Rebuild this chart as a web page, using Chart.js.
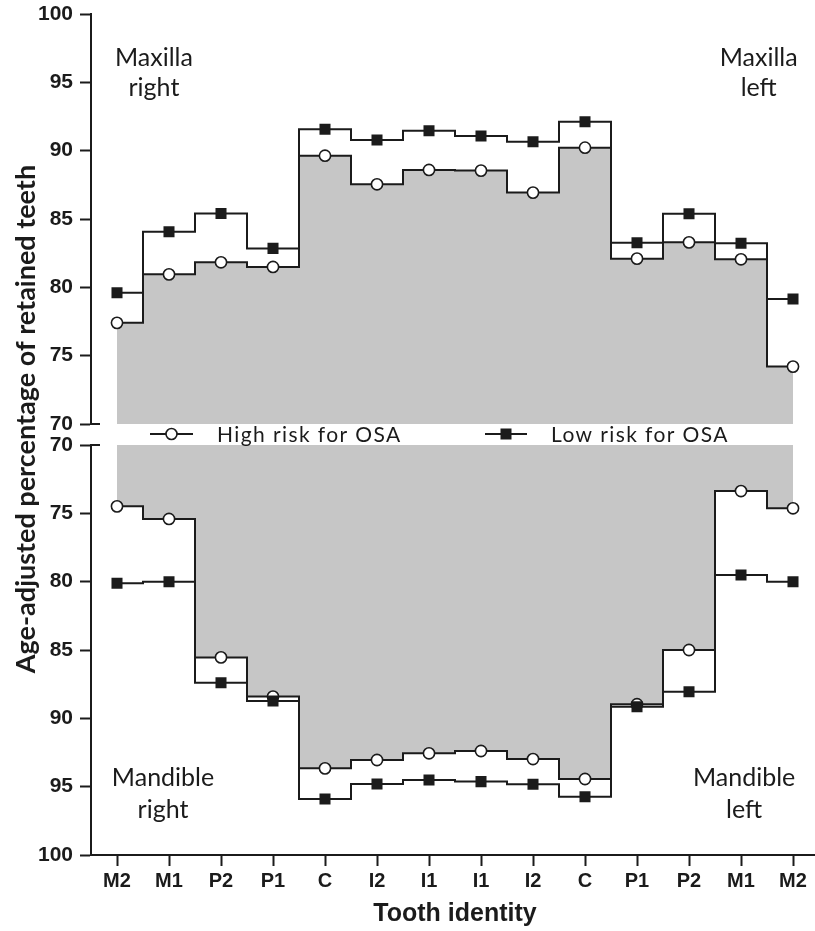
<!DOCTYPE html>
<html><head><meta charset="utf-8">
<script src="https://cdn.jsdelivr.net/npm/chart.js@4.4.1/dist/chart.umd.min.js"></script>
<style>
html,body{margin:0;padding:0;background:#fff;}
#wrap{position:relative;width:815px;height:931px;overflow:hidden;background:#fff;}
canvas{position:absolute;left:0;top:0;}
</style></head><body>
<div id="wrap"><canvas id="cTop" width="830" height="931"></canvas><canvas id="cBot" width="830" height="931"></canvas></div>
<script>
// ---- data ----
const teeth = ['M2','M1','P2','P1','C','I2','I1','I1','I2','C','P1','P2','M1','M2'];
const yTicks = [70,75,80,85,90,95,100];
const seriesNames = ['High risk for OSA','Low risk for OSA'];
const maxillaHigh = [77.4,80.95,81.83,81.49,89.63,87.54,88.59,88.54,86.93,90.22,82.1,83.29,82.05,74.2];
const maxillaLow  = [79.6,84.07,85.4,82.85,91.56,90.78,91.46,91.07,90.66,92.12,83.27,85.39,83.22,79.15];
const mandibleHigh = [74.49,75.41,85.54,88.41,93.66,93.05,92.56,92.39,92.98,94.44,88.97,85.0,73.37,74.63];
const mandibleLow  = [80.12,80.0,87.39,88.73,95.9,94.8,94.51,94.63,94.83,95.73,89.15,88.05,79.51,80.0];
const yTitle = 'Age-adjusted percentage of retained teeth';
const xTitle = 'Tooth identity';

// ---- styles ----
const INK = '#1b1b1b';
const GRAY = '#c6c6c6';
const ARIAL = '"Liberation Sans", Arial, sans-serif';
const HUM = 'Lato, "Open Sans", sans-serif';

function makeDatasets(high, low){
  return [
    {label: seriesNames[1], data: low, stepped:'middle', borderColor:INK, borderWidth:2,
     pointStyle:'rect', pointRadius:7.8, pointBackgroundColor:INK, pointBorderColor:INK, pointBorderWidth:0,
     fill:false, order:0},
    {label: seriesNames[0], data: high, stepped:'middle', borderColor:INK, borderWidth:2,
     pointStyle:'circle', pointRadius:5.6, pointBackgroundColor:'#fff', pointBorderColor:INK, pointBorderWidth:1.6,
     fill:{value:70}, backgroundColor:GRAY, order:1}
  ];
}
function makeY(reverse){
  return {
    type:'linear', min:70, max:100, reverse: reverse,
    afterBuildTicks: s => { s.ticks = yTicks.map(v => ({value:v})); },
    ticks:{ color:INK, font:{family:ARIAL, size:21, weight:'bold'}, padding:7 },
    grid:{ drawOnChartArea:false, drawTicks:true, tickLength:11, tickColor:INK, tickWidth:2 },
    border:{ display:true, color:INK, width:2 },
    afterFit: s => { s.width = 91; s.paddingTop = 0; s.paddingBottom = 0; }
  };
}
const stubPlugin = {
  id:'stub',
  afterDraw(chart){
    const {ctx, chartArea, scales} = chart;
    const y = scales.y.getPixelForValue(70);
    ctx.save(); ctx.strokeStyle = INK; ctx.lineWidth = 2;
    ctx.beginPath(); ctx.moveTo(chartArea.left, y); ctx.lineTo(chartArea.left + 9, y); ctx.stroke();
    ctx.restore();
  }
};
function drawLabel(chart, lines, xIdx, yVals){
  const {ctx, scales} = chart;
  ctx.save();
  ctx.fillStyle = INK; ctx.font = '25px ' + HUM; ctx.textAlign = 'center'; ctx.textBaseline = 'alphabetic';
  const x = scales.x.getPixelForValue(xIdx);
  lines.forEach((t,i) => ctx.fillText(t, x, scales.y.getPixelForValue(yVals[i])));
  ctx.restore();
}
const topLabels = {
  id:'topLabels',
  afterDraw(chart){
    drawLabel(chart, ['Maxilla','right'], 0.71, [96.2, 94.0]);
    drawLabel(chart, ['Maxilla','left'], 12.34, [96.2, 94.0]);
  }
};
const botLabels = {
  id:'botLabels',
  afterDraw(chart){
    drawLabel(chart, ['Mandible','right'], 0.885, [94.95, 97.3]);
    drawLabel(chart, ['Mandible','left'], 12.06, [94.95, 97.3]);
    const {ctx, chartArea} = chart;
    // legend
    const ly = chartArea.top - 11;
    ctx.save();
    ctx.strokeStyle = INK; ctx.lineWidth = 2; ctx.fillStyle = INK;
    ctx.beginPath(); ctx.moveTo(150, ly); ctx.lineTo(193, ly); ctx.stroke();
    ctx.beginPath(); ctx.arc(171.5, ly, 5.5, 0, Math.PI*2); ctx.fillStyle='#fff'; ctx.fill(); ctx.lineWidth=1.6; ctx.stroke();
    ctx.lineWidth = 2;
    ctx.beginPath(); ctx.moveTo(485, ly); ctx.lineTo(527, ly); ctx.stroke();
    ctx.fillStyle = INK; ctx.fillRect(506-5.5, ly-5.5, 11, 11);
    ctx.font = '21px ' + HUM; ctx.textAlign='left'; ctx.textBaseline='middle';
    try { ctx.letterSpacing = '1.4px'; } catch(e) {}
    ctx.fillText(seriesNames[0], 217, ly + 1);
    ctx.fillText(seriesNames[1], 551, ly + 1);
    try { ctx.letterSpacing = '0px'; } catch(e) {}
    // y title
    ctx.translate(35, 419); ctx.rotate(-Math.PI/2);
    ctx.font = 'bold 27px ' + HUM; ctx.textAlign='center'; ctx.textBaseline='alphabetic';
    ctx.fillText(yTitle, 0, 0);
    ctx.restore();
  }
};

const common = {
  responsive:false, animation:false, devicePixelRatio:1,
  plugins:{ legend:{display:false}, tooltip:{enabled:false} },
  elements:{ line:{ tension:0 } }
};

new Chart(document.getElementById('cTop'), {
  type:'line',
  data:{ labels: teeth, datasets: makeDatasets(maxillaHigh, maxillaLow) },
  options: Object.assign({}, common, {
    layout:{ autoPadding:false, padding:{ left:0, right:11, top:14, bottom:507 } },
    scales:{
      x:{ type:'category', offset:true, display:false },
      y: makeY(false)
    }
  }),
  plugins:[stubPlugin, topLabels]
});

new Chart(document.getElementById('cBot'), {
  type:'line',
  data:{ labels: teeth, datasets: makeDatasets(mandibleHigh, mandibleLow) },
  options: Object.assign({}, common, {
    layout:{ autoPadding:false, padding:{ left:0, right:11, top:445, bottom:0 } },
    scales:{
      x:{ type:'category', offset:true,
          ticks:{ color:INK, font:{family:ARIAL, size:20, weight:'bold'}, padding:3, maxRotation:0, autoSkip:false },
          grid:{ drawOnChartArea:false, drawTicks:true, tickLength:11, tickColor:INK, tickWidth:2 },
          border:{ display:true, color:INK, width:2 },
          title:{ display:true, text:xTitle, color:INK, font:{family:ARIAL, size:25, weight:'bold'}, padding:{top:0,bottom:2} },
          afterFit: s => { s.height = 76; }
      },
      y: makeY(true)
    }
  }),
  plugins:[stubPlugin, botLabels]
});
</script>
</body></html>
